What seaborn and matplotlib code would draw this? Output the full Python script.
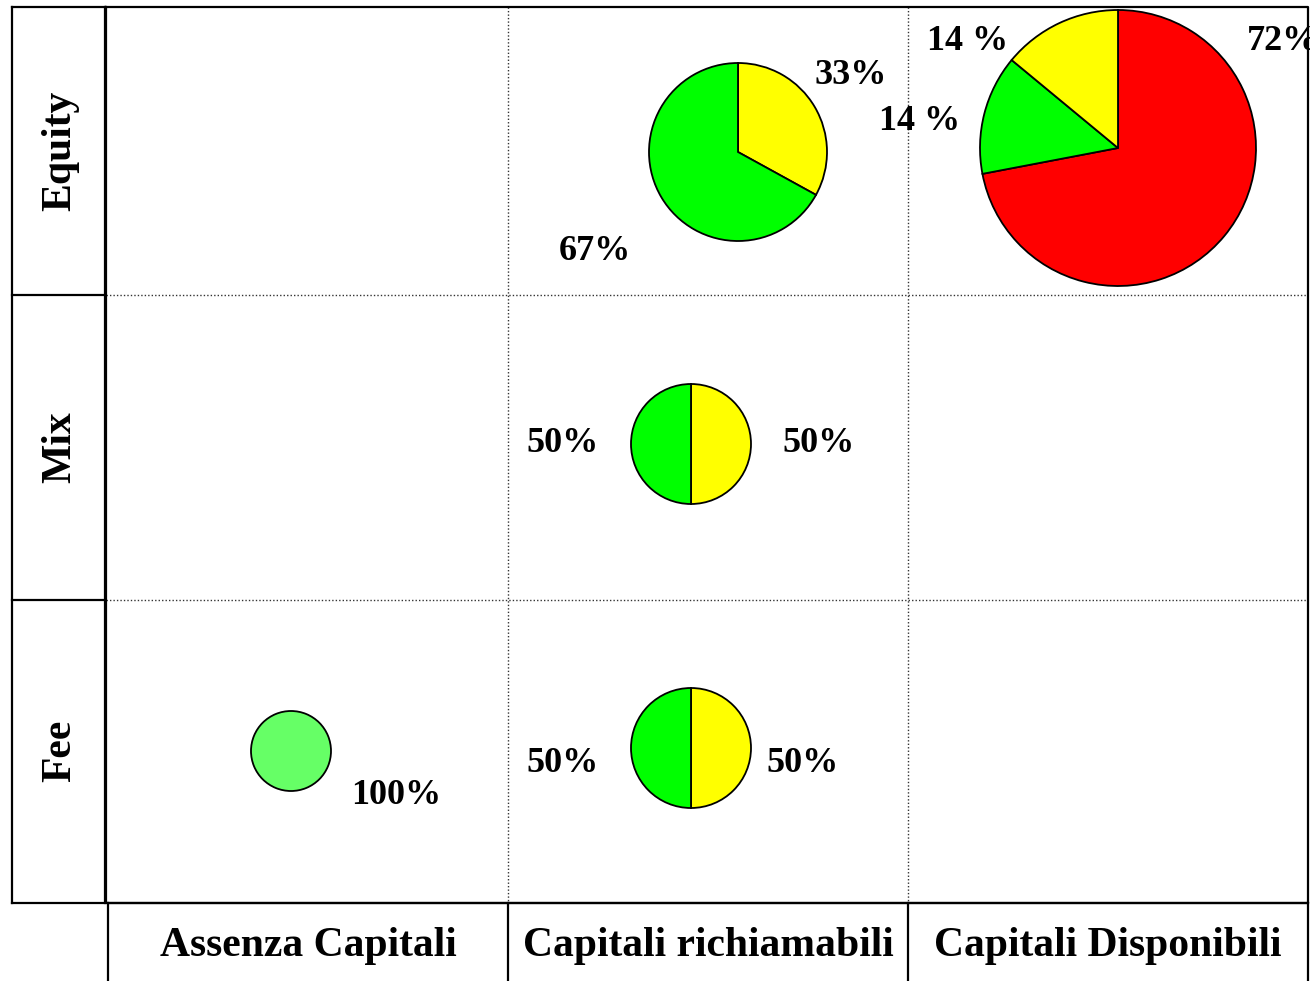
import matplotlib
matplotlib.use("Agg")
import matplotlib.pyplot as plt
import seaborn as sns

sns.set_theme(style="white")
plt.rcParams["font.family"] = ["Liberation Serif", "DejaVu Serif"]
plt.rcParams["text.color"] = "black"

# Matrix categories
row_labels = ["Equity", "Mix", "Fee"]
col_labels = ["Assenza Capitali", "Capitali richiamabili", "Capitali Disponibili"]

# Shares per cell (percent, clockwise from 12 o'clock)
equity_richiamabili = [33, 67]
equity_richiamabili_labels = ["33%", "67%"]
equity_disponibili = [72, 14, 14]
equity_disponibili_labels = ["72%", "14 %", "14 %"]
mix_richiamabili = [50, 50]
mix_richiamabili_labels = ["50%", "50%"]
fee_assenza = [100]
fee_assenza_labels = ["100%"]
fee_richiamabili = [50, 50]
fee_richiamabili_labels = ["50%", "50%"]

GREEN, YELLOW, RED, LIGHT = "#00FF00", "#FFFF00", "#FF0000", "#66FF66"

W, H = 1310, 981
fig = plt.figure(figsize=(W / 100, H / 100), dpi=100)
ax = fig.add_axes([0, 0, 1, 1])


def py(y):
    # canvas y measured from the top
    return H - y


# pie layout: values, labels, colours, centre, radius, label anchors
pies = [
    (equity_richiamabili, equity_richiamabili_labels, [YELLOW, GREEN],
     (738, 152), 89, [((851, 75), "center"), ((595, 251), "center")]),
    (equity_disponibili, equity_disponibili_labels, [RED, GREEN, YELLOW],
     (1118, 148), 138, [((1247, 42), "left"), ((920, 122), "center"), ((968, 42), "center")]),
    (mix_richiamabili, mix_richiamabili_labels, [YELLOW, GREEN],
     (691, 444), 60, [((819, 443), "center"), ((563, 443), "center")]),
    (fee_assenza, fee_assenza_labels, [LIGHT],
     (291, 751), 40, [((396, 795), "center")]),
    (fee_richiamabili, fee_richiamabili_labels, [YELLOW, GREEN],
     (691, 748), 60, [((803, 763), "center"), ((563, 763), "center")]),
]

for vals, labs, cols, (cx, cy), r, anchors in pies:
    ax.pie(vals, colors=cols, center=(cx, py(cy)), radius=r, startangle=90,
           counterclock=False, frame=True,
           wedgeprops=dict(edgecolor="black", linewidth=1.3))
    for lab, ((tx, ty), ha) in zip(labs, anchors):
        ax.text(tx, py(ty), lab, ha=ha, va="center", fontsize=26,
                fontweight="bold", color="black")

# dotted interior grid
dot = dict(color="#333333", linewidth=1.0, linestyle=(0, (1, 1.5)))
for x in (508, 908):
    ax.plot([x, x], [py(7), py(903)], **dot)
for y in (295, 600):
    ax.plot([106, 1308], [py(y), py(y)], **dot)

# solid frame of the matrix
solid = dict(color="black", linewidth=1.6, solid_capstyle="projecting")
ax.plot([106, 1308, 1308, 106, 106], [py(7), py(7), py(903), py(903), py(7)], **solid)

# row header boxes
for y in (7, 295, 600, 903):
    ax.plot([12, 105], [py(y), py(y)], **solid)
ax.plot([12, 12], [py(7), py(903)], **solid)
ax.plot([105, 105], [py(7), py(903)], **solid)
row_centres = [151, 447, 751]
for lab, yc in zip(row_labels, row_centres):
    ax.text(60, py(yc), lab, rotation=90, ha="center", va="center",
            fontsize=30, fontweight="bold", color="black")

# column header boxes
for x in (108, 508, 908, 1308):
    ax.plot([x, x], [py(903), py(990)], **solid)
ax.plot([108, 1308], [py(903), py(903)], **solid)
col_centres = [308, 708, 1108]
for lab, xc in zip(col_labels, col_centres):
    ax.text(xc, py(946), lab, ha="center", va="center",
            fontsize=30, fontweight="bold", color="black")

ax.set_xlim(0, W)
ax.set_ylim(0, H)
ax.set_aspect("equal")
ax.axis("off")

fig.savefig("out.png", dpi=100)
